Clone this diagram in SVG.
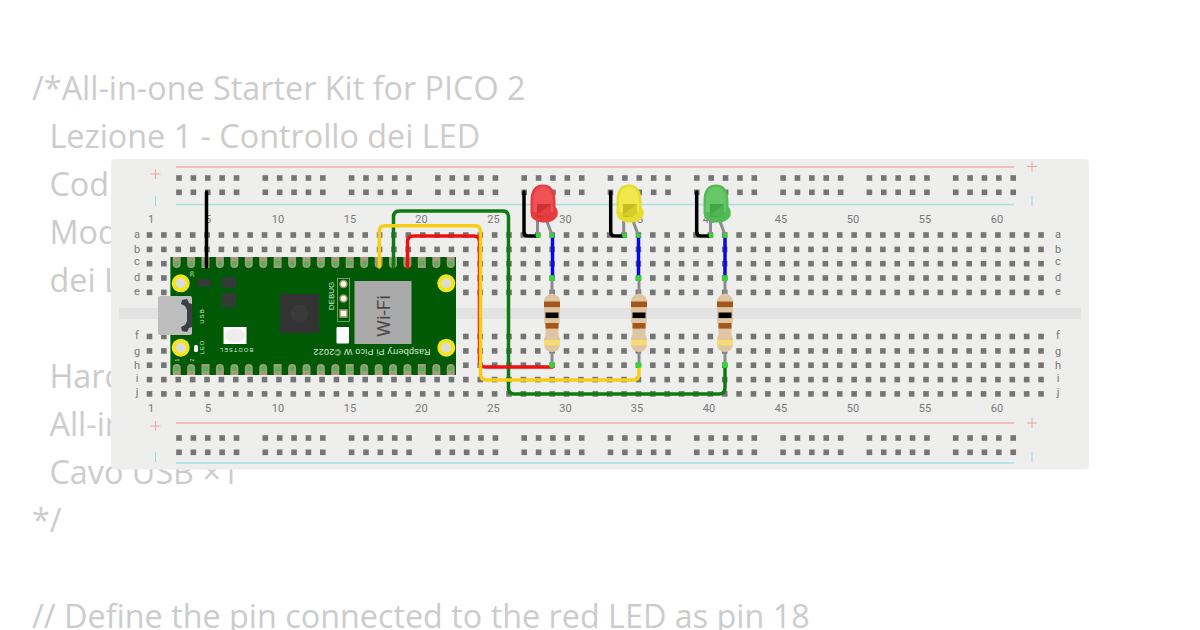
<svg xmlns="http://www.w3.org/2000/svg" width="1200" height="630" viewBox="0 0 1200 630">
<style>
.code{font-family:"Open Sans","Noto Sans",sans-serif;font-size:32.330px;fill:#cccccc}
.num{font-family:Roboto,"Liberation Sans",sans-serif;font-size:11px;fill:#777;text-anchor:middle}
.ltr{font-family:Roboto,"Liberation Sans",sans-serif;font-size:11px;fill:#777;text-anchor:middle}
.silk{font-family:"Liberation Sans",Roboto,sans-serif;fill:#d8e8d8;text-anchor:middle}
.pm{stroke-width:1;fill:none}
.wire{fill:none;stroke-width:3.500;stroke-linecap:round;stroke-linejoin:round}
.lead{fill:none;stroke:#8c8c8c;stroke-width:3}
.dot{fill:#33d633}
.bandb{fill:#a4561c}
.h{fill:#757575}
</style>
<defs>
<g id="five"><rect class="h" x="0" y="0" width="5.600" height="5.600"/><rect class="h" x="14.380" y="0" width="5.600" height="5.600"/><rect class="h" x="28.760" y="0" width="5.600" height="5.600"/><rect class="h" x="43.140" y="0" width="5.600" height="5.600"/><rect class="h" x="57.520" y="0" width="5.600" height="5.600"/></g>
<g id="railRow"><use href="#five" x="0"/><use href="#five" x="86.300"/><use href="#five" x="172.600"/><use href="#five" x="258.900"/><use href="#five" x="345.200"/><use href="#five" x="431.500"/><use href="#five" x="517.800"/><use href="#five" x="604.100"/><use href="#five" x="690.400"/><use href="#five" x="776.700"/></g>
<g id="mainRow"><use href="#five" x="0"/><use href="#five" x="71.900"/><use href="#five" x="143.800"/><use href="#five" x="215.700"/><use href="#five" x="287.600"/><use href="#five" x="359.500"/><use href="#five" x="431.400"/><use href="#five" x="503.300"/><use href="#five" x="575.200"/><use href="#five" x="647.100"/><use href="#five" x="719"/><use href="#five" x="790.900"/><rect class="h" x="862.800" y="0" width="5.600" height="5.600"/><rect class="h" x="877.180" y="0" width="5.600" height="5.600"/><rect class="h" x="891.560" y="0" width="5.600" height="5.600"/></g>
<g id="padT"><path d="M-4 0H4V7A4 4 0 0 1-4 7Z" fill="#a39a7c"/><circle cy="6.600" r="2.500" fill="#4fb552"/></g>
<g id="padTs"><rect x="-4" width="8" height="11" fill="#a39a7c"/><rect x="-2.400" y="3.500" width="5" height="5" fill="#4fb552"/></g>
<g id="padB"><path d="M-4 12V5A4 4 0 0 1 4 5V12Z" fill="#a39a7c"/><circle cy="5.400" r="2.500" fill="#4fb552"/></g>
<g id="padBs"><rect x="-4" y="1" width="8" height="11" fill="#a39a7c"/><rect x="-2.400" y="3.500" width="5" height="5" fill="#4fb552"/></g>
<g id="mount"><circle r="9" fill="#f2e41e"/><circle r="5" fill="#dcdcd0"/></g>
<g id="resistor">
<path d="M0 -85V0" class="lead"/>
<path d="M-4 -70Q0 -73 4 -70Q8 -68 8 -63V-45Q8 -42 6.500 -40V-30Q8 -28 8 -24V-22Q8 -16 4 -14Q0 -12 -4 -14Q-8 -16 -8 -22V-24Q-8 -28 -6.500 -30V-40Q-8 -42 -8 -45V-63Q-8 -68 -4 -70Z" fill="#e0c5a2"/>
<rect x="-8" y="-63.500" width="16" height="5.600" class="bandb"/>
<rect x="-6.500" y="-52.500" width="13" height="5.600" fill="#000"/>
<rect x="-6.500" y="-42" width="13" height="5.600" class="bandb"/>
<rect x="-8" y="-25" width="16" height="5.500" fill="#f4dc72"/>
</g>
</defs>
<rect width="1200" height="630" fill="#ffffff"/>
<g id="code">
<text class="code" x="32" y="100">/*All-in-one Starter Kit for PICO 2</text>
<text class="code" x="49.500" y="148">Lezione 1 - Controllo dei LED</text>
<text class="code" x="49.500" y="196">Cod</text>
<text class="code" x="49.500" y="244">Mod</text>
<text class="code" x="49.500" y="292">dei L</text>
<text class="code" x="49.500" y="388">Hard</text>
<text class="code" x="49.500" y="436">All-in</text>
<text class="code" x="49.500" y="484">Cavo USB ×1</text>
<text class="code" x="32" y="532">*/</text>
<text class="code" x="32" y="628">// Define the pin connected to the red LED as pin 18</text>
</g>
<g id="breadboard">
<rect x="111" y="159" width="978" height="310.500" rx="4" fill="#eeeeed"/>
<rect x="119" y="308" width="962" height="11" fill="#e3e3e3"/>
<g stroke-width="1.500" fill="none">
<path d="M176 167H1014M176 423H1014" stroke="#f2acac"/>
<path d="M176 204.500H1014M176 463H1014" stroke="#a4e2e6"/>
</g>
<g class="pm" stroke="#f0a4a0"><path d="M150.500 174H160.500M155.500 169V179M1027 166.500H1037M1032 161.500V171.500M150.500 426H160.500M155.500 421V431M1027 423H1037M1032 418V428"/></g>
<g class="pm" stroke="#9bd4e6"><path d="M155.500 196V206M1032 196V206M155.500 452V462M1032 452V462"/></g>
<use href="#railRow" x="176.200" y="175.200"/><use href="#railRow" x="176.200" y="189.500"/>
<use href="#railRow" x="176.200" y="435.200"/><use href="#railRow" x="176.200" y="449.500"/>
<use href="#mainRow" x="146.700" y="232.200"/><use href="#mainRow" x="146.700" y="246.600"/><use href="#mainRow" x="146.700" y="260.900"/><use href="#mainRow" x="146.700" y="275.200"/><use href="#mainRow" x="146.700" y="289.600"/>
<use href="#mainRow" x="146.700" y="333.700"/><use href="#mainRow" x="146.700" y="348.100"/><use href="#mainRow" x="146.700" y="362.400"/><use href="#mainRow" x="146.700" y="376.800"/><use href="#mainRow" x="146.700" y="391.100"/>
<g class="nums">
<text class="num" x="151" y="223">1</text><text class="num" x="208" y="223">5</text><text class="num" x="278" y="223">10</text><text class="num" x="350" y="223">15</text><text class="num" x="421.500" y="223">20</text><text class="num" x="493.500" y="223">25</text><text class="num" x="565.500" y="223">30</text><text class="num" x="637" y="223">35</text><text class="num" x="709" y="223">40</text><text class="num" x="781" y="223">45</text><text class="num" x="853" y="223">50</text><text class="num" x="925" y="223">55</text><text class="num" x="997" y="223">60</text>
<text class="num" x="151" y="412">1</text><text class="num" x="208" y="412">5</text><text class="num" x="278" y="412">10</text><text class="num" x="350" y="412">15</text><text class="num" x="421.500" y="412">20</text><text class="num" x="493.500" y="412">25</text><text class="num" x="565.500" y="412">30</text><text class="num" x="637" y="412">35</text><text class="num" x="709" y="412">40</text><text class="num" x="781" y="412">45</text><text class="num" x="853" y="412">50</text><text class="num" x="925" y="412">55</text><text class="num" x="997" y="412">60</text>
</g>
<g class="letters">
<text class="ltr" x="137" y="238">a</text><text class="ltr" x="137" y="252.500">b</text><text class="ltr" x="137" y="265">c</text><text class="ltr" x="137" y="281">d</text><text class="ltr" x="137" y="295">e</text><text class="ltr" x="137" y="339">f</text><text class="ltr" x="137" y="355">g</text><text class="ltr" x="137" y="369">h</text><text class="ltr" x="137" y="382">i</text><text class="ltr" x="137" y="396">j</text>
<text class="ltr" x="1058" y="238">a</text><text class="ltr" x="1058" y="252.500">b</text><text class="ltr" x="1058" y="265">c</text><text class="ltr" x="1058" y="281">d</text><text class="ltr" x="1058" y="295">e</text><text class="ltr" x="1058" y="339">f</text><text class="ltr" x="1058" y="355">g</text><text class="ltr" x="1058" y="369">h</text><text class="ltr" x="1058" y="382">i</text><text class="ltr" x="1058" y="396">j</text>
</g>
</g>
<g id="pico">
<rect x="170" y="257" width="286" height="118" fill="#005a05"/>
<path d="M170.500 257V375" stroke="#3aa84a" stroke-width="1"/>
<g id="pico-pads-top">
<use href="#padT" x="176.700" y="257"/><use href="#padT" x="191.100" y="257"/><use href="#padTs" x="205.500" y="257"/><use href="#padT" x="219.900" y="257"/><use href="#padT" x="234.400" y="257"/><use href="#padT" x="248.800" y="257"/><use href="#padT" x="263.200" y="257"/><use href="#padTs" x="277.600" y="257"/><use href="#padT" x="292.100" y="257"/><use href="#padT" x="306.500" y="257"/><use href="#padT" x="320.900" y="257"/><use href="#padT" x="335.300" y="257"/><use href="#padTs" x="349.700" y="257"/><use href="#padT" x="364.200" y="257"/><use href="#padT" x="378.600" y="257"/><use href="#padT" x="393" y="257"/><use href="#padT" x="407.400" y="257"/><use href="#padTs" x="421.800" y="257"/><use href="#padT" x="436.300" y="257"/><use href="#padT" x="450.700" y="257"/>
</g>
<g id="pico-pads-bottom">
<use href="#padB" x="176.700" y="363"/><use href="#padB" x="191.100" y="363"/><use href="#padBs" x="205.500" y="363"/><use href="#padB" x="219.900" y="363"/><use href="#padB" x="234.400" y="363"/><use href="#padB" x="248.800" y="363"/><use href="#padB" x="263.200" y="363"/><use href="#padBs" x="277.600" y="363"/><use href="#padB" x="292.100" y="363"/><use href="#padB" x="306.500" y="363"/><use href="#padB" x="320.900" y="363"/><use href="#padB" x="335.300" y="363"/><use href="#padBs" x="349.700" y="363"/><use href="#padB" x="364.200" y="363"/><use href="#padB" x="378.600" y="363"/><use href="#padB" x="393" y="363"/><use href="#padB" x="407.400" y="363"/><use href="#padBs" x="421.800" y="363"/><use href="#padB" x="436.300" y="363"/><use href="#padB" x="450.700" y="363"/>
</g>
<use href="#mount" x="180.700" y="283.300"/><use href="#mount" x="446.300" y="283.300"/><use href="#mount" x="180.700" y="347.700"/><use href="#mount" x="446.300" y="347.700"/>
<rect x="158" y="296" width="34" height="39" rx="2" fill="#bdbdbd"/>
<path d="M182 300L187 299L189 303L192 304V327L189 328L187 332L182 331L181 327L185 325L187 321V310L185 306L181 304Z" fill="#3a3f44"/>
<rect x="197" y="279" width="14" height="7.500" rx="1" fill="#333a38"/>
<rect x="222" y="277" width="14" height="11" fill="#333a38"/>
<rect x="222" y="293" width="14" height="14" fill="#333a38"/>
<rect x="280" y="294" width="39" height="39" fill="#333333"/>
<circle cx="299.500" cy="313.500" r="9" fill="#3a3a3a"/>
<rect x="337.500" y="278.500" width="12" height="43" fill="none" stroke="#7dbb7d" stroke-width="0.800"/>
<circle cx="343.500" cy="284" r="3.500" fill="#fff8e0" stroke="#a39a7c" stroke-width="1.500"/>
<circle cx="343.500" cy="298.500" r="3.500" fill="#fff8e0" stroke="#a39a7c" stroke-width="1.500"/>
<rect x="340" y="310" width="7" height="7" fill="#fff8e0" stroke="#a39a7c" stroke-width="1.500"/>
<rect x="354.500" y="281" width="57" height="63" fill="#aaaaaa"/>
<rect x="336.500" y="327" width="12.500" height="16.500" rx="1" fill="#ffffff"/>
<rect x="223.500" y="327" width="23" height="17" fill="#ffffff"/>
<ellipse cx="235" cy="335.500" rx="10" ry="7" fill="#eeeeee"/>
<rect x="194" y="345" width="4" height="7" rx="1.500" fill="#f4f4f4"/>
<text class="silk" font-size="8" transform="translate(333.500 296) rotate(-90)">DEBUG</text>
<text font-family="Roboto,&quot;Liberation Sans&quot;,sans-serif" font-size="19" fill="#4a4a4a" text-anchor="middle" transform="translate(390 316) rotate(-90)">Wi-Fi</text>
<text class="silk" font-size="6" letter-spacing="1" transform="translate(203.500 316) rotate(-90)">USB</text>
<text class="silk" font-size="6" letter-spacing="1" transform="translate(203.500 347) rotate(-90)">LED</text>
<text class="silk" font-size="5.500" letter-spacing="1.200" transform="translate(236 348) rotate(180)">BOOTSEL</text>
<text class="silk" font-size="9" letter-spacing="0.200" transform="translate(372 349) rotate(180)">Raspberry Pi Pico W ©2022</text>
<text class="silk" font-size="5" transform="translate(193.500 274) rotate(-90)">39</text>
<text class="silk" font-size="5" transform="translate(178.500 360) rotate(-90)">1</text>
<text class="silk" font-size="5" transform="translate(193.500 360) rotate(-90)">2</text>
</g>
<g id="connectors">
<path class="wire" stroke="#000000" d="M206.500 192V267"/>
<path class="wire" stroke="#000000" d="M524 192V232Q524 236 528 236H538"/>
<path class="wire" stroke="#000000" d="M610.700 192V232Q610.700 236 614.700 236H625"/>
<path class="wire" stroke="#000000" d="M696.700 192V232Q696.700 236 700.700 236H711"/>
<path class="wire" stroke="#0e7a12" d="M393.500 267V217Q393.500 211 399.500 211H502.500Q508.500 211 508.500 217V388Q508.500 394 514.500 394H719Q725 394 725 388V366"/>
<path class="wire" stroke="#ee0f0f" d="M407.500 267V242Q407.500 236 413.500 236H474Q479.500 236 479.500 242V361Q479.500 367 485.500 367H552.500"/>
<path class="wire" stroke="#f7cd16" d="M379.300 267V231.500Q379.300 225.700 385 225.700H475Q480.500 225.700 480.500 231.500V374Q480.500 380 486.500 380H633Q639 380 639 374V366"/>
<path class="wire" stroke="#0a0ae0" d="M552.500 235V278"/>
<path class="wire" stroke="#0a0ae0" d="M638.500 235V278"/>
<path class="wire" stroke="#0a0ae0" d="M725 235V278"/>
</g>
<g id="resistor1"><use href="#resistor" x="552" y="365"/></g>
<g id="resistor2"><use href="#resistor" x="639" y="365"/></g>
<g id="resistor3"><use href="#resistor" x="725" y="365"/></g>
<g id="led-red">
<path d="M537.500 220V235M546.500 220L552 235" class="lead"/>
<path d="M530.500 201Q530.500 184.500 543 184.500Q555 184.500 555.500 201V207Q558.500 210 557.500 216Q553 223.500 542 222.500Q530.500 221 530.500 213Z" fill="#e63c3e"/>
<path d="M533 202Q533 187 543 186.500Q552 187 553 200V212H533Z" fill="#ee5254"/>
<path d="M537 204H551V212L547 217H537Z" fill="#d03034"/>
<path d="M537 215L551 204V212L547 217Z" fill="#e04040"/>
</g>
<g id="led-yellow">
<path d="M623.700 220V235M632.700 220L638.200 235" class="lead"/>
<path d="M616.500 201Q616.500 184.500 629 184.500Q641 184.500 641.500 201V207Q644.500 210 643.500 216Q639 223.500 628 222.500Q616.500 221 616.500 213Z" fill="#e6dc2c"/>
<path d="M619 202Q619 187 629 186.500Q638 187 639 200V212H619Z" fill="#efe84a"/>
<path d="M623 204H637V212L633 217H623Z" fill="#c8be22"/>
<path d="M623 215L637 204V212L633 217Z" fill="#d8ce2a"/>
</g>
<g id="led-green">
<path d="M710.500 220V235M719.500 220L725 235" class="lead"/>
<path d="M703.500 201Q703.500 184.500 716 184.500Q728 184.500 728.500 201V207Q731.500 210 730.500 216Q726 223.500 715 222.500Q703.500 221 703.500 213Z" fill="#53bb55"/>
<path d="M706 202Q706 187 716 186.500Q725 187 726 200V212H706Z" fill="#66c766"/>
<path d="M710 204H724V212L720 217H710Z" fill="#43a546"/>
<path d="M710 215L724 204V212L720 217Z" fill="#4fb552"/>
</g>
<g id="pin-dots" class="dot">
<circle cx="538" cy="235.500" r="2.500"/><circle cx="552" cy="235.500" r="2.500"/><circle cx="552" cy="278" r="3"/><circle cx="552" cy="365" r="3"/>
<circle cx="624.500" cy="235.500" r="2.500"/><circle cx="638.500" cy="235.500" r="2.500"/><circle cx="638.500" cy="278" r="3"/><circle cx="638.500" cy="365" r="3"/>
<circle cx="711" cy="235.500" r="2.500"/><circle cx="725" cy="235.500" r="2.500"/><circle cx="725" cy="278" r="3"/><circle cx="725" cy="365" r="3"/>
</g>
</svg>
